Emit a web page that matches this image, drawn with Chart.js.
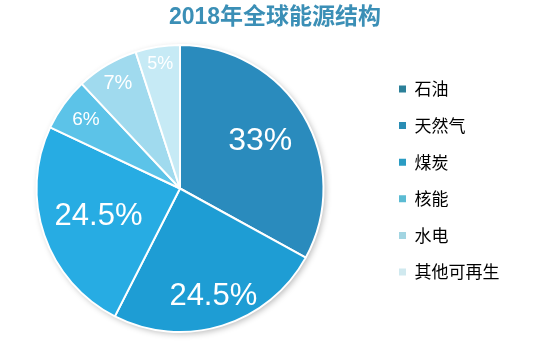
<!DOCTYPE html>
<html>
<head>
<meta charset="utf-8">
<script src="https://cdn.jsdelivr.net/npm/chart.js@4/dist/chart.umd.min.js"></script>
<style>
  html, body { margin: 0; padding: 0; background: #ffffff; }
  #wrap { width: 550px; height: 347px; }
</style>
</head>
<body>
<div id="wrap"><canvas id="chart" width="550" height="347"></canvas></div>
<script>
// 2018 global energy mix (percent)
const titleText = '2018年全球能源结构';
const categories = ['石油', '天然气', '煤炭', '核能', '水电', '其他可再生'];
const shares = [33, 24.5, 24.5, 6, 7, 5];
const sliceColors = ['#2a8bbd', '#1e9dd4', '#27ace3', '#5cc3e8', '#a0daee', '#c6eaf5'];
const legendColors = ['#2b8099', '#2a8db4', '#2a9cc3', '#5bbbd3', '#a2d5e2', '#d0e9ef'];

// label placement: fraction of the radius and font size per slice
const labelRadius = [0.65, 0.79, 0.60, 0.81, 0.85, 0.88];
const labelSize = [32, 31, 31, 19, 20, 18];

// pie sits left of the legend, title spans the full width
const placeBlocks = {
  id: 'placeBlocks',
  afterLayout(chart) {
    const a = chart.chartArea;
    a.left = 0;
    a.right = 360;
    a.top = 44;
    a.bottom = 333;
    a.width = a.right - a.left;
    a.height = a.bottom - a.top;
    if (chart.titleBlock) {
      chart.titleBlock.left = 0;
      chart.titleBlock.right = 550;
      chart.titleBlock.width = 550;
    }
    if (chart.legend) {
      chart.legend.top = 44;
      chart.legend.bottom = 317;
      chart.legend.height = 273;
    }
  }
};

const pieShadow = {
  id: 'pieShadow',
  beforeDatasetsDraw(chart) {
    const arc = chart.getDatasetMeta(0).data[0];
    if (!arc) return;
    const ctx = chart.ctx;
    ctx.save();
    ctx.shadowColor = 'rgba(0,0,0,0.28)';
    ctx.shadowBlur = 6;
    ctx.shadowOffsetX = 2;
    ctx.shadowOffsetY = 2;
    ctx.fillStyle = '#ffffff';
    ctx.beginPath();
    ctx.arc(arc.x, arc.y, arc.outerRadius, 0, Math.PI * 2);
    ctx.fill();
    ctx.restore();
  }
};

const sliceLabels = {
  id: 'sliceLabels',
  afterDatasetsDraw(chart) {
    const ctx = chart.ctx;
    const meta = chart.getDatasetMeta(0);
    ctx.save();
    ctx.fillStyle = '#ffffff';
    ctx.textAlign = 'center';
    ctx.textBaseline = 'middle';
    meta.data.forEach((arc, i) => {
      const mid = (arc.startAngle + arc.endAngle) / 2;
      const r = arc.outerRadius * labelRadius[i];
      const x = arc.x + Math.cos(mid) * r;
      const y = arc.y + Math.sin(mid) * r;
      ctx.font = labelSize[i] + 'px "Liberation Sans", Arial, sans-serif';
      ctx.fillText(shares[i] + '%', x, y);
    });
    ctx.restore();
  }
};

new Chart(document.getElementById('chart'), {
  type: 'pie',
  data: {
    labels: categories,
    datasets: [{
      data: shares,
      backgroundColor: sliceColors,
      borderColor: '#ffffff',
      borderWidth: 2
    }]
  },
  options: {
    responsive: false,
    animation: false,
    layout: { padding: { left: 0, right: 40.5, top: 0, bottom: 0 } },
    plugins: {
      title: {
        display: true,
        text: titleText,
        color: '#3b8fb6',
        font: { family: '"Liberation Sans", "Noto Sans CJK SC", sans-serif', size: 23, weight: 'bold' },
        padding: { top: 4, bottom: 12 }
      },
      legend: {
        position: 'right',
        labels: {
          boxWidth: 7,
          boxHeight: 7,
          padding: 19.6,
          color: '#222222',
          font: { family: '"Noto Sans CJK SC", sans-serif', size: 17 },
          generateLabels(chart) {
            return chart.data.labels.map((text, i) => ({
              text,
              fillStyle: legendColors[i],
              strokeStyle: legendColors[i],
              lineWidth: 0,
              hidden: false,
              index: i
            }));
          }
        }
      },
      tooltip: { enabled: false }
    }
  },
  plugins: [placeBlocks, pieShadow, sliceLabels]
});
</script>
</body>
</html>
